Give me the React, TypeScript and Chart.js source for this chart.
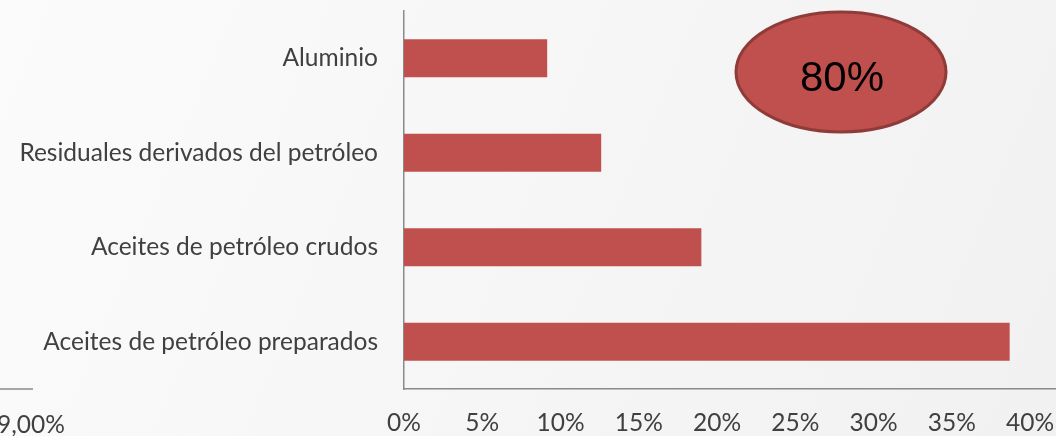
import React, { useEffect, useRef } from "react";
import { Chart, registerables } from "chart.js";

Chart.register(...registerables);

const categories = [
  "Aluminio",
  "Residuales derivados del petróleo",
  "Aceites de petróleo crudos",
  "Aceites de petróleo preparados",
];
const values = [9.15, 12.6, 19.0, 38.7];
const tickValues = [0, 5, 10, 15, 20, 25, 30, 35, 40];
const badgeText = "80%";
const sideLabel = "9,00%";

const FONT = "Lato, 'Open Sans', sans-serif";
const FONT_SIZE = 24.5;

const decorPlugin = {
  id: "decor",
  beforeDraw(chart: any) {
    const { ctx, width, height } = chart;
    ctx.save();
    const g = ctx.createLinearGradient(0, 0, width, height);
    g.addColorStop(0, "#fbfbfb");
    g.addColorStop(1, "#f1f1f1");
    ctx.fillStyle = g;
    ctx.fillRect(0, 0, width, height);
    ctx.restore();
  },
  afterDraw(chart: any) {
    const { ctx } = chart;
    const axisY = chart.chartArea.bottom;
    ctx.save();
    // fragment of neighbouring axis
    ctx.strokeStyle = "#8a8a8a";
    ctx.lineWidth = 1.5;
    ctx.beginPath();
    ctx.moveTo(0, axisY);
    ctx.lineTo(33, axisY);
    ctx.stroke();
    ctx.fillStyle = "#404040";
    ctx.font = `${FONT_SIZE}px ${FONT}`;
    ctx.textAlign = "left";
    ctx.textBaseline = "middle";
    ctx.fillText(sideLabel, -3, 425);
    // badge ellipse
    ctx.beginPath();
    ctx.ellipse(841, 72, 105, 60, 0, 0, Math.PI * 2);
    ctx.fillStyle = "#c0504d";
    ctx.fill();
    ctx.lineWidth = 3;
    ctx.strokeStyle = "#8e3b39";
    ctx.stroke();
    ctx.fillStyle = "#000000";
    ctx.font = `42px 'Liberation Sans', Arial, sans-serif`;
    ctx.textAlign = "center";
    ctx.textBaseline = "middle";
    ctx.fillText(badgeText, 842, 79);
    ctx.restore();
  },
};

export default function App() {
  const ref = useRef<HTMLCanvasElement | null>(null);
  useEffect(() => {
    document.body.style.margin = "0";
    const chart = new Chart(ref.current as HTMLCanvasElement, {
      type: "bar",
      data: {
        labels: categories,
        datasets: [
          {
            data: values,
            backgroundColor: "#c0504d",
            barPercentage: 0.4,
            categoryPercentage: 1,
          },
        ],
      },
      plugins: [decorPlugin],
      options: {
        indexAxis: "y",
        animation: false,
        responsive: false,
        layout: { padding: { top: 11, right: 0, left: 0, bottom: 0 } },
        plugins: { legend: { display: false }, tooltip: { enabled: false } },
        scales: {
          x: {
            min: 0,
            max: 41.66,
            afterBuildTicks: (s: any) => {
              s.ticks = tickValues.map((v) => ({ value: v }));
            },
            afterFit: (s: any) => {
              s.height = 47;
              s.paddingLeft = 0;
              s.paddingRight = 0;
            },
            grid: { display: false, drawTicks: false },
            border: { display: true, color: "#8a8a8a", width: 1.5 },
            ticks: {
              padding: 19,
              color: "#404040",
              font: { family: FONT, size: FONT_SIZE },
              callback: (v: any) => `${v}%`,
              maxRotation: 0,
              autoSkip: false,
            },
          },
          y: {
            afterFit: (s: any) => {
              s.width = 404;
              s.paddingTop = 0;
              s.paddingBottom = 0;
            },
            grid: { display: false, drawTicks: false },
            border: { display: true, color: "#8a8a8a", width: 1.5 },
            ticks: {
              padding: 26,
              color: "#404040",
              font: { family: FONT, size: FONT_SIZE },
            },
          },
        },
      },
    });
    return () => chart.destroy();
  }, []);
  return (
    <div style={{ position: "absolute", left: 0, top: 0, width: 1056, height: 436 }}>
      <canvas ref={ref} width={1056} height={436} style={{ display: "block" }} />
    </div>
  );
}
